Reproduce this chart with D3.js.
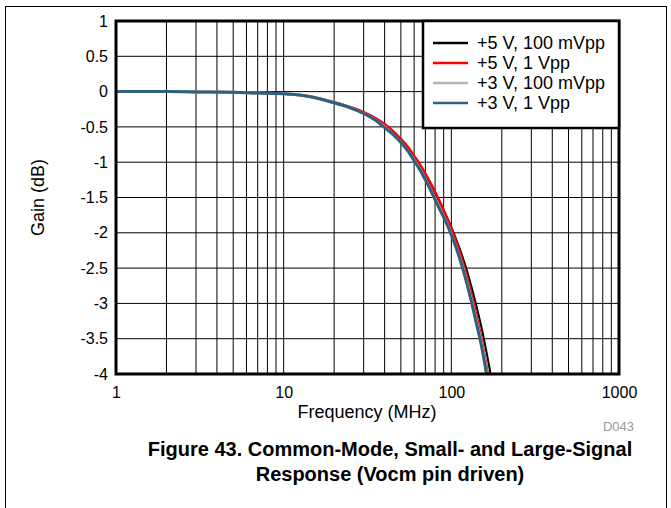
<!DOCTYPE html>
<html>
<head>
<meta charset="utf-8">
<script src="https://cdn.jsdelivr.net/npm/d3@7"></script>
<style>
  html, body { margin: 0; padding: 0; background: #fff; }
  svg { display: block; font-family: "Liberation Sans", Arial, sans-serif; }
</style>
</head>
<body>
<svg id="chart" width="671" height="508"></svg>
<script>
// ---- data ----
const freqs = [1, 2, 3, 5, 7, 10, 15, 20, 25, 30, 35, 40, 45, 50, 55, 60, 65, 70, 75, 80, 85, 90, 95, 100, 110, 120, 130, 140, 150, 160, 170, 180];
const gain5V100m = [0, 0, -0.005, -0.01, -0.02, -0.03, -0.08, -0.15, -0.22, -0.30, -0.38, -0.48, -0.58, -0.69, -0.80, -0.93, -1.05, -1.18, -1.31, -1.44, -1.56, -1.68, -1.80, -1.92, -2.17, -2.43, -2.71, -3.00, -3.30, -3.62, -3.95, -4.30];
const gain5V1 = [0, 0, -0.005, -0.01, -0.02, -0.03, -0.08, -0.15, -0.22, -0.29, -0.37, -0.46, -0.56, -0.67, -0.78, -0.91, -1.03, -1.16, -1.29, -1.42, -1.55, -1.68, -1.81, -1.94, -2.21, -2.50, -2.81, -3.13, -3.46, -3.81, -4.17, -4.5];
const gain3V100m = [0, 0, -0.005, -0.01, -0.02, -0.03, -0.08, -0.16, -0.23, -0.31, -0.40, -0.50, -0.61, -0.72, -0.84, -0.97, -1.10, -1.24, -1.38, -1.52, -1.65, -1.77, -1.89, -2.02, -2.29, -2.58, -2.90, -3.22, -3.53, -3.88, -4.25, -4.6];
const gain3V1 = [0, 0, -0.005, -0.01, -0.02, -0.03, -0.08, -0.16, -0.23, -0.31, -0.40, -0.51, -0.61, -0.72, -0.84, -0.98, -1.11, -1.25, -1.39, -1.53, -1.66, -1.78, -1.90, -2.03, -2.30, -2.60, -2.92, -3.25, -3.56, -3.92, -4.30, -4.65];
const seriesNames = ["+5 V, 100 mVpp", "+5 V, 1 Vpp", "+3 V, 100 mVpp", "+3 V, 1 Vpp"];
const seriesColors = ["#000000", "#ff0000", "#b4b4b4", "#2f6080"];
const yTicks = [1, 0.5, 0, -0.5, -1, -1.5, -2, -2.5, -3, -3.5, -4];
const yTickLabels = ["1", "0.5", "0", "-0.5", "-1", "-1.5", "-2", "-2.5", "-3", "-3.5", "-4"];
const xTicks = [1, 10, 100, 1000];
const xTickLabels = ["1", "10", "100", "1000"];
const xTitle = "Frequency (MHz)";
const yTitle = "Gain (dB)";
const caption1 = "Figure 43. Common-Mode, Small- and Large-Signal";
const caption2 = "Response (Vocm pin driven)";
const code = "D043";

const seriesValues = [gain5V100m, gain5V1, gain3V100m, gain3V1];

// ---- layout ----
const svg = d3.select("#chart");
const L = 116, R = 619, T = 21, B = 374;
const x = d3.scaleLog().domain([1, 1000]).range([L, R]);
const y = d3.scaleLinear().domain([-4, 1]).range([B, T]);

// outer frame
svg.append("rect").attr("x", 5.5).attr("y", 6.5).attr("width", 661).attr("height", 520)
  .attr("fill", "none").attr("stroke", "#000").attr("stroke-width", 1);

// clip
svg.append("clipPath").attr("id", "clip").append("rect")
  .attr("x", L).attr("y", T).attr("width", R - L).attr("height", B - T);

// grid
const minor = [];
for (let d = 1; d < 1000; d *= 10) for (let k = 1; k < 10; k++) minor.push(d * k);
minor.push(1000);
const grid = svg.append("g");
grid.selectAll("line.v").data(minor).join("line")
  .attr("x1", d => x(d)).attr("x2", d => x(d)).attr("y1", T).attr("y2", B)
  .attr("stroke", "#000").attr("stroke-width", 1);
grid.selectAll("line.h").data(yTicks).join("line")
  .attr("x1", L).attr("x2", R).attr("y1", d => y(d)).attr("y2", d => y(d))
  .attr("stroke", "#000").attr("stroke-width", 1);

// curves
const line = d3.line().x((d, i) => x(freqs[i])).y(d => y(d)).curve(d3.curveMonotoneX);
const cg = svg.append("g").attr("clip-path", "url(#clip)");
const widths = [2, 2.5, 3, 3];
seriesValues.forEach((vals, i) => {
  cg.append("path").datum(vals).attr("d", line)
    .attr("fill", "none").attr("stroke", seriesColors[i]).attr("stroke-width", widths[i])
    .attr("stroke-linejoin", "round");
});

// axes labels via d3 axes
const yAxis = d3.axisLeft(y).tickValues(yTicks).tickSize(0).tickPadding(8)
  .tickFormat((d, i) => yTickLabels[i]);
const yg = svg.append("g").attr("transform", `translate(${L},0)`).call(yAxis);
yg.select(".domain").remove();
yg.selectAll("text").attr("font-size", 16).attr("font-family", "Liberation Sans, Arial, sans-serif").attr("fill", "#000");

const xAxis = d3.axisBottom(x).tickValues(xTicks).tickSize(0).tickPadding(13)
  .tickFormat((d, i) => xTickLabels[i]);
const xg = svg.append("g").attr("transform", `translate(0,${B})`).call(xAxis);
xg.select(".domain").remove();
xg.selectAll("text").attr("font-size", 16).attr("font-family", "Liberation Sans, Arial, sans-serif").attr("fill", "#000");

// plot frame
svg.append("rect").attr("x", L).attr("y", T).attr("width", R - L).attr("height", B - T)
  .attr("fill", "none").attr("stroke", "#000").attr("stroke-width", 3);

// legend
const lg = svg.append("g");
lg.append("rect").attr("x", 423).attr("y", T).attr("width", R - 423).attr("height", 128 - T)
  .attr("fill", "#fff").attr("stroke", "#000").attr("stroke-width", 2.5);
seriesNames.forEach((n, i) => {
  const yy = 43 + i * 20;
  lg.append("line").attr("x1", 433).attr("x2", 468).attr("y1", yy).attr("y2", yy)
    .attr("stroke", seriesColors[i]).attr("stroke-width", 2.5);
  lg.append("text").attr("x", 477).attr("y", yy + 6).attr("font-size", 18).text(n);
});

// titles
svg.append("text").attr("x", 367).attr("y", 418).attr("text-anchor", "middle").attr("font-size", 18).text(xTitle);
svg.append("text").attr("transform", `translate(44,${(T + B) / 2}) rotate(-90)`)
  .attr("text-anchor", "middle").attr("font-size", 18).text(yTitle);
svg.append("text").attr("x", 634).attr("y", 431).attr("text-anchor", "end").attr("font-size", 13).attr("fill", "#999").text(code);
svg.append("text").attr("x", 390).attr("y", 456).attr("text-anchor", "middle").attr("font-size", 20).attr("font-weight", "bold").text(caption1);
svg.append("text").attr("x", 390).attr("y", 481).attr("text-anchor", "middle").attr("font-size", 20).attr("font-weight", "bold").text(caption2);
</script>
</body>
</html>
